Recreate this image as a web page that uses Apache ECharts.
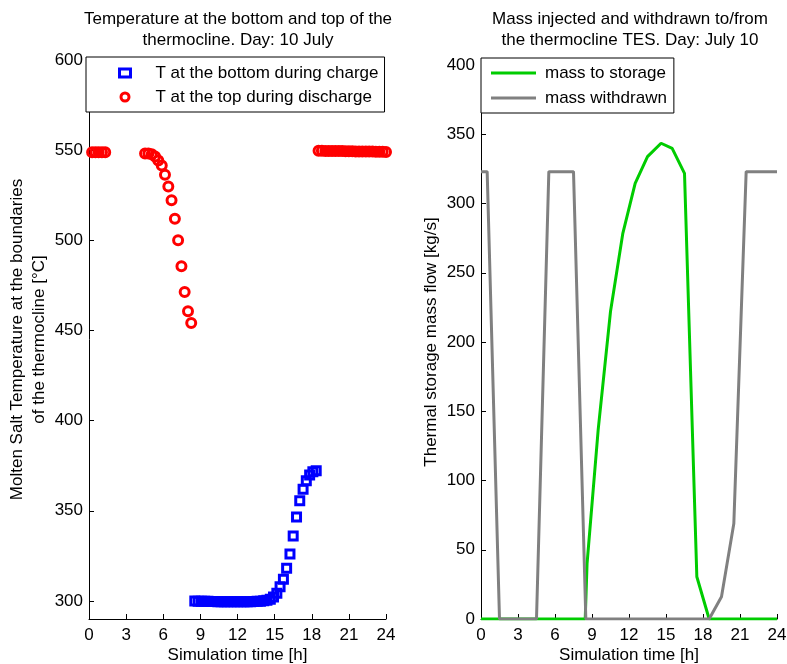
<!DOCTYPE html>
<html>
<head>
<meta charset="utf-8">
<script src="https://cdn.jsdelivr.net/npm/echarts@6/dist/echarts.min.js"></script>
<style>
  html, body { margin: 0; padding: 0; background: #fff; }
  #chart { width: 787px; height: 664px; }
</style>
</head>
<body>
<div id="chart"></div>
<script>
// Hour ticks shared by both panels
const hourTicks = [0, 3, 6, 9, 12, 15, 18, 21, 24];
const tempTicks = [300, 350, 400, 450, 500, 550, 600];
const flowTicks = [0, 50, 100, 150, 200, 250, 300, 350, 400];

// Temperature at the bottom of the thermocline while charging [h], [°C]
const chargeTime = [8.55, 8.82, 9.08, 9.35, 9.61, 9.88, 10.14, 10.41, 10.67, 10.94,
  11.20, 11.47, 11.73, 12.00, 12.26, 12.53, 12.79, 13.06, 13.32, 13.59,
  13.85, 14.12, 14.38, 14.65, 14.91, 15.18, 15.44, 15.71, 15.97, 16.24,
  16.50, 16.77, 17.03, 17.30, 17.56, 17.83, 18.09, 18.36];
const chargeTemp = [300.0, 299.9, 299.9, 299.8, 299.8, 299.7, 299.7, 299.6, 299.6, 299.6,
  299.5, 299.5, 299.5, 299.5, 299.5, 299.5, 299.6, 299.6, 299.7, 299.8,
  299.9, 300.1, 300.4, 301.0, 302.2, 304.3, 307.9, 312.0, 318.1, 326.0,
  336.0, 346.5, 355.6, 362.0, 366.7, 369.8, 371.6, 372.2];

// Temperature at the top of the thermocline while discharging [h], [°C]
const dischargeTime = [0.25, 0.52, 0.78, 1.05, 1.31,
  4.53, 4.80, 5.07, 5.34, 5.60, 5.88, 6.14, 6.41, 6.67, 6.94, 7.20, 7.47, 7.73, 8.00, 8.26,
  18.55, 18.82, 19.10, 19.37, 19.64, 19.91, 20.19, 20.46, 20.73, 21.00, 21.28,
  21.55, 21.82, 22.09, 22.37, 22.64, 22.91, 23.18, 23.46, 23.73, 24.00];
const dischargeTemp = [548.9, 548.9, 548.9, 548.8, 548.8,
  548.2, 548.1, 547.7, 546.5, 544.3, 541.5, 536.4, 529.9, 522.2, 512.0, 500.0, 485.6, 471.4, 460.7, 454.2,
  549.7, 549.7, 549.6, 549.6, 549.6, 549.5, 549.5, 549.5, 549.4, 549.4, 549.4,
  549.3, 549.3, 549.3, 549.2, 549.2, 549.2, 549.1, 549.1, 549.1, 549.0];

// Mass flow into storage [h], [kg/s]
const storageTime = [0, 8.45, 8.6, 9.5, 10.5, 11.5, 12.5, 13.5, 14.6, 15.5, 16.5, 17.5, 18.5, 24];
const storageFlow = [0, 0, 40, 136.5, 222, 278.5, 314.6, 333.8, 343.5, 339.8, 321.8, 30.5, 0, 0];

// Mass flow withdrawn from storage [h], [kg/s]
const withdrawTime = [0, 0.5, 1.5, 4.5, 5.5, 7.5, 8.5, 18.5, 19.5, 20.5, 21.5, 24];
const withdrawFlow = [323, 323, 0, 0, 323, 323, 0, 0, 16, 69, 323, 323];

const pairs = (xs, ys) => xs.map((x, i) => [x, ys[i]]);

const FONT = 'Liberation Sans, Arial, Helvetica, sans-serif';
const txt = { color: '#000', fontFamily: FONT, fontSize: 17 };

function xAxisFor(gridIndex) {
  return {
    type: 'value', gridIndex, min: 0, max: 24, interval: 3,
    name: 'Simulation time [h]', nameLocation: 'middle', nameGap: 28,
    nameMoveOverlap: false,
    nameTextStyle: txt,
    axisLine: { show: true, onZero: false, lineStyle: { color: '#000', width: 1 } },
    axisTick: { show: true, inside: true, length: 5, customValues: hourTicks, lineStyle: { color: '#000' } },
    axisLabel: Object.assign({ margin: 8, customValues: hourTicks }, txt),
    splitLine: { show: false }
  };
}

const chart = echarts.init(document.getElementById('chart'), null, { renderer: 'canvas' });

chart.setOption({
  animation: false,
  backgroundColor: '#fff',
  title: [
    {
      text: 'Temperature at the bottom and top of the\nthermocline. Day: 10 July',
      left: 238, top: 9, textAlign: 'center', padding: 0,
      textStyle: Object.assign({ fontWeight: 'normal', lineHeight: 21 }, txt)
    },
    {
      text: 'Mass injected and withdrawn to/from\nthe thermocline TES. Day: July 10',
      left: 630, top: 9, textAlign: 'center', padding: 0,
      textStyle: Object.assign({ fontWeight: 'normal', lineHeight: 21 }, txt)
    }
  ],
  grid: [
    { left: 89, top: 60, width: 297, height: 559, outerBoundsMode: 'none', containLabel: false },
    { left: 481, top: 65, width: 296, height: 554, outerBoundsMode: 'none', containLabel: false }
  ],
  xAxis: [xAxisFor(0), xAxisFor(1)],
  yAxis: [
    {
      type: 'value', gridIndex: 0, min: 290, max: 600,
      name: 'Molten Salt Temperature at the boundaries\nof the thermocline [°C]',
      nameLocation: 'middle', nameGap: 38, nameRotate: 90,
      nameTextStyle: Object.assign({ lineHeight: 22 }, txt),
      axisLine: { show: true, lineStyle: { color: '#000', width: 1 } },
      axisTick: { show: true, inside: true, length: 5, customValues: tempTicks, lineStyle: { color: '#000' } },
      axisLabel: Object.assign({ margin: 6, customValues: tempTicks }, txt),
      splitLine: { show: false }
    },
    {
      type: 'value', gridIndex: 1, min: 0, max: 400,
      name: 'Thermal storage mass flow [kg/s]',
      nameLocation: 'middle', nameGap: 41, nameRotate: 90,
      nameTextStyle: txt,
      axisLine: { show: true, lineStyle: { color: '#000', width: 1 } },
      axisTick: { show: true, inside: true, length: 5, customValues: flowTicks, lineStyle: { color: '#000' } },
      axisLabel: Object.assign({ margin: 6, customValues: flowTicks }, txt),
      splitLine: { show: false }
    }
  ],
  legend: [
    {
      left: 86, top: 57, orient: 'vertical',
      padding: [7, 6, 6, 32], itemGap: 6,
      itemWidth: 11, itemHeight: 8,
      backgroundColor: '#fff', borderColor: '#000', borderWidth: 1,
      textStyle: Object.assign({ lineHeight: 18, padding: [0, 0, 0, 20] }, txt),
      selectedMode: false,
      data: [
        { name: 'T at the bottom during charge', icon: 'rect',
          itemStyle: { color: '#fff', borderColor: '#0000ff', borderWidth: 3 } },
        { name: 'T at the top during discharge', icon: 'circle',
          itemStyle: { color: '#fff', borderColor: '#ff0000', borderWidth: 3 } }
      ]
    },
    {
      left: 481, top: 58, orient: 'vertical',
      padding: [6, 7, 6, 10], itemGap: 7,
      itemWidth: 45, itemHeight: 3, symbolKeepAspect: false,
      backgroundColor: '#fff', borderColor: '#000', borderWidth: 1,
      textStyle: Object.assign({ lineHeight: 18, padding: [0, 0, 0, 4] }, txt),
      selectedMode: false,
      data: [
        { name: 'mass to storage', icon: 'rect', itemStyle: { color: '#00cc00', borderWidth: 0 } },
        { name: 'mass withdrawn', icon: 'rect', itemStyle: { color: '#808080', borderWidth: 0 } }
      ]
    }
  ],
  series: [
    {
      name: 'T at the bottom during charge', type: 'scatter',
      xAxisIndex: 0, yAxisIndex: 0, symbol: 'rect', symbolSize: 8,
      itemStyle: { color: 'rgba(255,255,255,0)', borderColor: '#0000ff', borderWidth: 3, opacity: 1 },
      emphasis: { disabled: true }, silent: true,
      data: pairs(chargeTime, chargeTemp)
    },
    {
      name: 'T at the top during discharge', type: 'scatter',
      xAxisIndex: 0, yAxisIndex: 0, symbol: 'circle', symbolSize: 9,
      itemStyle: { color: 'rgba(255,255,255,0)', borderColor: '#ff0000', borderWidth: 3, opacity: 1 },
      emphasis: { disabled: true }, silent: true,
      data: pairs(dischargeTime, dischargeTemp)
    },
    {
      name: 'mass to storage', type: 'line',
      xAxisIndex: 1, yAxisIndex: 1, showSymbol: false, symbol: 'none',
      lineStyle: { color: '#00cc00', width: 3 }, itemStyle: { color: '#00cc00' },
      emphasis: { disabled: true }, silent: true,
      data: pairs(storageTime, storageFlow)
    },
    {
      name: 'mass withdrawn', type: 'line',
      xAxisIndex: 1, yAxisIndex: 1, showSymbol: false, symbol: 'none',
      lineStyle: { color: '#808080', width: 3 }, itemStyle: { color: '#808080' },
      emphasis: { disabled: true }, silent: true,
      data: pairs(withdrawTime, withdrawFlow)
    }
  ]
});
</script>
</body>
</html>
